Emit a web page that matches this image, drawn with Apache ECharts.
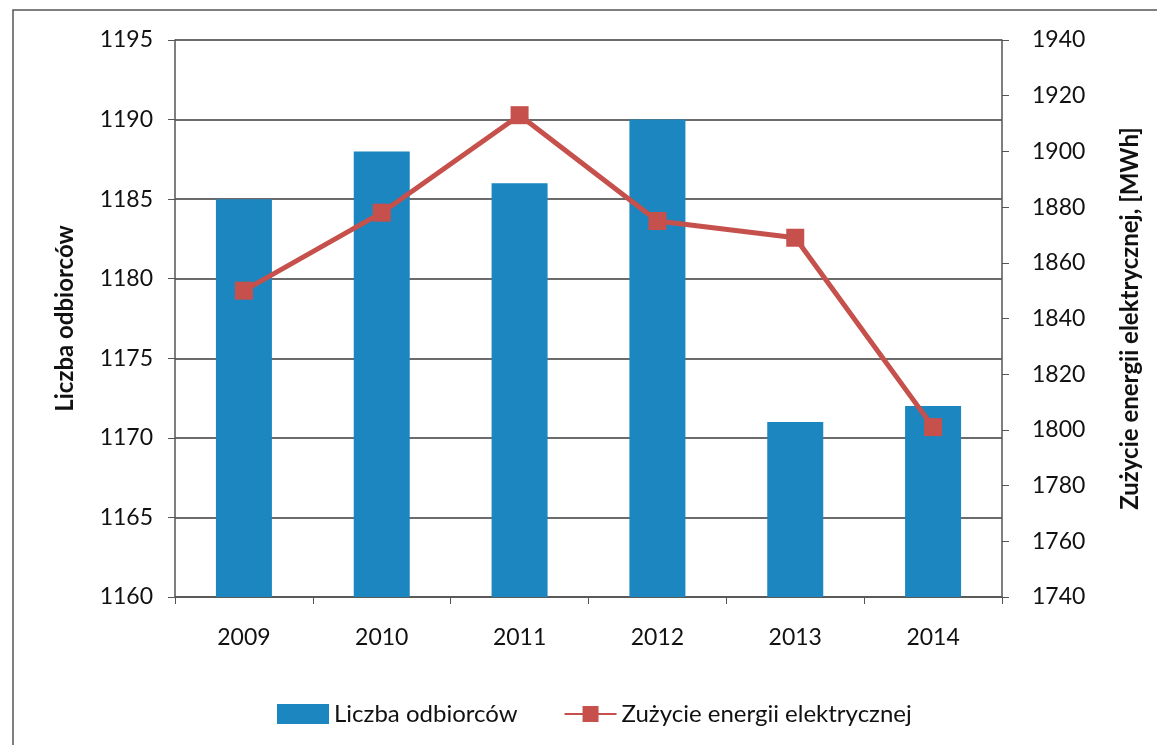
<!DOCTYPE html>
<html>
<head>
<meta charset="utf-8">
<script src="https://cdn.jsdelivr.net/npm/echarts@6/dist/echarts.min.js"></script>
<style>
  html, body { margin: 0; padding: 0; background: #fff; }
  #chart { width: 1157px; height: 745px; }
</style>
</head>
<body>
<div id="chart"></div>
<script>
const years = ['2009', '2010', '2011', '2012', '2013', '2014']
const odbiorcy = [1185, 1188, 1186, 1190, 1171, 1172]
const zuzycie = [1850, 1878, 1913, 1875, 1869, 1801]

const font = 'Lato, "Noto Sans", sans-serif'
const chart = echarts.init(document.getElementById('chart'))
const plain = v => String(v)

chart.setOption({
  animation: false,
  backgroundColor: '#fff',
  textStyle: { fontFamily: font, color: '#111' },
  graphic: [{
    type: 'rect',
    shape: { x: 13, y: 10, width: 1160, height: 760 },
    style: { fill: 'none', stroke: '#555', lineWidth: 1.5 }
  }],
  grid: { left: 175, right: 155, top: 40, bottom: 148 },
  legend: {
    top: 697,
    left: 272,
    itemGap: 46,
    itemWidth: 52,
    itemHeight: 20,
    textStyle: { fontFamily: font, fontSize: 24, color: '#111' },
    data: [
      { name: 'Liczba odbiorców', icon: 'rect' },
      { name: 'Zużycie energii elektrycznej' }
    ]
  },
  xAxis: {
    type: 'category',
    data: years,
    axisLine: { lineStyle: { color: '#555', width: 1.5 } },
    axisTick: { show: true, length: 7, lineStyle: { color: '#555' } },
    axisLabel: { fontSize: 23, color: '#111', margin: 29 }
  },
  yAxis: [{
    type: 'value',
    min: 1160,
    max: 1195,
    interval: 5,
    name: 'Liczba odbiorców',
    nameLocation: 'middle',
    nameGap: 98,
    nameTextStyle: { fontSize: 24, fontWeight: 'bold', color: '#111' },
    axisLine: { show: true, lineStyle: { color: '#555', width: 1.5 } },
    axisTick: { show: true, length: 7, lineStyle: { color: '#555' } },
    axisLabel: { fontSize: 23, color: '#111', margin: 22, formatter: plain },
    splitLine: { lineStyle: { color: '#3a3a3a', width: 1.5 } }
  }, {
    type: 'value',
    min: 1740,
    max: 1940,
    interval: 20,
    name: 'Zużycie energii elektrycznej, [MWh]',
    nameLocation: 'middle',
    nameGap: 116,
    nameRotate: 90,
    nameTextStyle: { fontSize: 24, fontWeight: 'bold', color: '#111' },
    axisLine: { show: true, lineStyle: { color: '#555', width: 1.5 } },
    axisTick: { show: true, length: 7, lineStyle: { color: '#555' } },
    axisLabel: { fontSize: 23, color: '#111', margin: 30, formatter: plain },
    splitLine: { show: false }
  }],
  series: [{
    name: 'Liczba odbiorców',
    type: 'bar',
    data: odbiorcy,
    barWidth: 56,
    itemStyle: { color: '#1b86bf' }
  }, {
    name: 'Zużycie energii elektrycznej',
    type: 'line',
    yAxisIndex: 1,
    data: zuzycie,
    symbol: 'rect',
    symbolSize: 18,
    lineStyle: { color: '#c6504b', width: 5 },
    itemStyle: { color: '#c6504b' }
  }]
})
</script>
</body>
</html>
